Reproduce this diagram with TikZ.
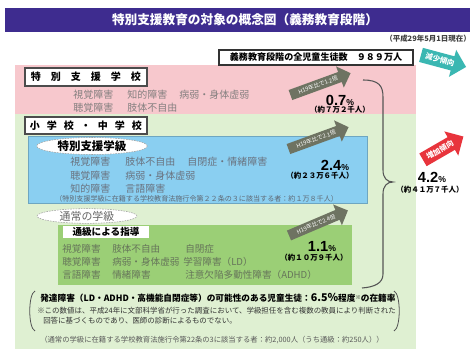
\documentclass[tikz,border=0pt]{standalone}
\usepackage{fontspec}
\setmainfont{Noto Sans CJK JP}
\newfontfamily\arialf{Liberation Sans}
\usetikzlibrary{shapes.arrows,shapes.geometric}
\definecolor{titlebg}{HTML}{3E2C8F}
\definecolor{pinkbg}{HTML}{F7C8CD}
\definecolor{greenbg}{HTML}{DFF0D2}
\definecolor{bluebg}{HTML}{8ACFF1}
\definecolor{greenbox}{HTML}{9BCF76}
\definecolor{pinkgray}{HTML}{858080}
\definecolor{bluegray}{HTML}{6A7380}
\definecolor{greengray}{HTML}{66755A}
\definecolor{arrowgray}{HTML}{6E7362}
\definecolor{tealarrow}{HTML}{3AB7B2}
\definecolor{redarrow}{HTML}{E8343C}
\definecolor{bracegray}{HTML}{555555}
\tikzset{
  body/.style={anchor=west, inner sep=0pt, font=\fontsize{7.5}{8}\selectfont},
  pinktxt/.style={body, text=pinkgray},
  bluetxt/.style={body, text=bluegray},
  greentxt/.style={body, text=greengray, font=\fontsize{7.2}{8}\selectfont},
  growarrow/.style={single arrow, fill=arrowgray, text=white, font=\fontsize{4.3}{5}\selectfont,
    inner xsep=2pt, inner ysep=1.8pt, single arrow head extend=4.5pt, minimum height=48pt},
  trendarrow/.style={single arrow, text=white, font=\fontsize{5.6}{6}\selectfont\bfseries,
    inner xsep=1pt, inner ysep=2.6pt, single arrow head extend=5pt, minimum height=35pt},
  pct/.style={font=\fontsize{11}{11}\selectfont\arialf\bfseries, inner sep=0pt},
  subpct/.style={font=\fontsize{5.6}{6}\selectfont\bfseries, inner sep=0pt},
  catbox/.style={draw=black!70, line width=1.4pt, fill=white, inner sep=0pt, minimum width=91.5pt,
    font=\fontsize{7.5}{8}\selectfont\bfseries},
  classoval/.style={ellipse, draw=gray!75, dash pattern=on 1.2pt off 0.8pt, fill=white, inner sep=0pt},
  note/.style={anchor=west, inner sep=0pt, font=\fontsize{5.6}{6}\selectfont},
}
\newcommand\jgap{\hspace{0.7em}}
\begin{document}
\begin{tikzpicture}[x=0.75pt,y=-0.75pt]
\fill[white] (0,0) rectangle (472,349);
\useasboundingbox (0,0) rectangle (472,349);

% regions
\fill[greenbg] (15,114) rectangle (416,349);
\fill[pinkbg] (15,65) rectangle (416,114);
\filldraw[fill=bluebg, draw=bluebg!80!black, line width=0.3pt] (28,136) rectangle (367,203);
\fill[greenbox] (58,225) rectangle (352,285);

% title
\fill[titlebg] (5,8) rectangle (470,32);
\node[font=\fontsize{9.5}{10}\selectfont\bfseries, text=white] (title) at (245,20) {特別支援教育の対象の概念図（義務教育段階）};
\node[anchor=east, inner sep=0pt, font=\fontsize{5.6}{6}\selectfont\bfseries, text=black!75] (date) at (471,39) {（平成29年5月1日現在）};

% total box
\node[draw=black!80, line width=1.6pt, fill=white, minimum width=146pt, minimum height=11pt, inner sep=0pt,
  font=\fontsize{6.8}{7}\selectfont\bfseries] (total) at (316,57.5) {義務教育段階の全児童生徒数　９８９万人};

% trend arrows
\node[trendarrow, fill=tealarrow, rotate=-15] (down) at (440,60) {減少傾向};
\node[trendarrow, fill=redarrow, rotate=30] (up) at (440,150) {増加傾向};

% special support schools
\node[catbox, minimum height=13.5pt] (sschool) at (86,77) {特　別　支　援　学　校};
\node[pinktxt] (p1) at (73,95) {視覚障害\hspace{1.4em}知的障害\hspace{1.2em}病弱・身体虚弱};
\node[pinktxt] (p2) at (73,108) {聴覚障害\hspace{1.4em}肢体不自由};
\node[growarrow, rotate=20] (a1) at (318,85) {H19年比で1.2倍};
\node[pct] (n1) at (340,100) {0.7{\fontsize{6.5}{6.5}\selectfont\%}};
\node[subpct] (s1) at (340,110) {（約７万２千人）};

% elementary / junior high
\node[catbox, minimum height=12.75pt] (school) at (86,125.5) {小\jgap 学\jgap 校\jgap ・\jgap 中\jgap 学\jgap 校};

% special support classes
\node[classoval, minimum width=83pt, minimum height=12.75pt, font=\fontsize{8.6}{9}\selectfont\bfseries] (cls) at (92,146) {特別支援学級};
\node[bluetxt] (b1a) at (70,162) {視覚障害};
\node[bluetxt] (b1b) at (125,162) {肢体不自由};
\node[bluetxt] (b1c) at (187,162) {自閉症・情緒障害};
\node[bluetxt] (b2a) at (70,176) {聴覚障害};
\node[bluetxt] (b2b) at (125,176) {病弱・身体虚弱};
\node[bluetxt] (b3a) at (70,189) {知的障害};
\node[bluetxt] (b3b) at (125,189) {言語障害};
\node[note, text=bluegray!90!black, font=\fontsize{5.3}{6}\selectfont] (bnote) at (55,199) {（特別支援学級に在籍する学校教育法施行令第２２条の３に該当する者：約１万８千人）};
\node[growarrow, rotate=20] (a2) at (316,139) {H19年比で2.1倍};
\node[pct] (n2) at (335,165) {2.4{\fontsize{6.5}{6.5}\selectfont\%}};
\node[subpct] (s2) at (320,176) {（約２３万６千人）};

% regular classes
\node[classoval, minimum width=75pt, minimum height=11pt, text=black!60, font=\fontsize{8.2}{8.5}\selectfont] (reg) at (87,216) {通常の学級};
\node[fill=white, minimum width=65pt, minimum height=9pt, inner sep=0pt, font=\fontsize{7.2}{7.5}\selectfont\bfseries] (tsu) at (106,232) {通級による指導};
\node[greentxt] (g1a) at (62,249) {視覚障害};
\node[greentxt] (g1b) at (112,249) {肢体不自由};
\node[greentxt] (g1c) at (185,249) {自閉症};
\node[greentxt] (g2a) at (62,262) {聴覚障害};
\node[greentxt] (g2b) at (112,262) {病弱・身体虚弱};
\node[greentxt] (g2c) at (183,262) {学習障害（LD）};
\node[greentxt] (g3a) at (62,275) {言語障害};
\node[greentxt] (g3b) at (112,275) {情緒障害};
\node[greentxt] (g3c) at (185,275) {注意欠陥多動性障害（ADHD）};
\node[growarrow, rotate=23] (a3) at (316,224) {H19年比で2.4倍};
\node[pct] (n3) at (322,246) {1.1{\fontsize{6.5}{6.5}\selectfont\%}};
\node[subpct] (s3) at (314,258) {（約１０万９千人）};

% brace and total
\draw[bracegray, line width=0.8pt] (363,80) .. controls (379,80) and (383,86) .. (383,97) -- (383,170)
  .. controls (383,178) and (387,182) .. (393,182) .. controls (387,182) and (383,186) .. (383,194)
  -- (383,274) .. controls (383,283) and (375,287) .. (362,288);
\node[pct] (n4) at (432,177) {4.2{\fontsize{6.5}{6.5}\selectfont\%}};
\node[subpct] (s4) at (430,190) {（約４１万７千人）};

% developmental disorders note
\node[anchor=west, inner sep=0pt, font=\fontsize{6.5}{7}\selectfont\bfseries] (dev) at (40,298)
  {発達障害（LD・ADHD・高機能自閉症等）の可能性のある児童生徒：{\fontsize{8}{8}\selectfont 6.5％}程度\raisebox{0.5ex}{\fontsize{4}{4}\selectfont ※}の在籍率};
\node[note, text=black!80] (dn1) at (37,311) {※この数値は、平成24年に文部科学省が行った調査において、学級担任を含む複数の教員により判断された};
\node[note, text=black!80] (dn2) at (43,321) {回答に基づくものであり、医師の診断によるものでない。};
\draw[bracegray, line width=0.6pt] (35,291) .. controls (28,294) and (28,328) .. (35,331);
\draw[bracegray, line width=0.6pt] (394,291) .. controls (401,294) and (401,328) .. (394,331);
\node[note, text=black!65, font=\fontsize{5.5}{6}\selectfont] (last) at (40,340) {（通常の学級に在籍する学校教育法施行令第22条の3に該当する者：約2,000人（うち通級：約250人））};
\end{tikzpicture}
\end{document}
